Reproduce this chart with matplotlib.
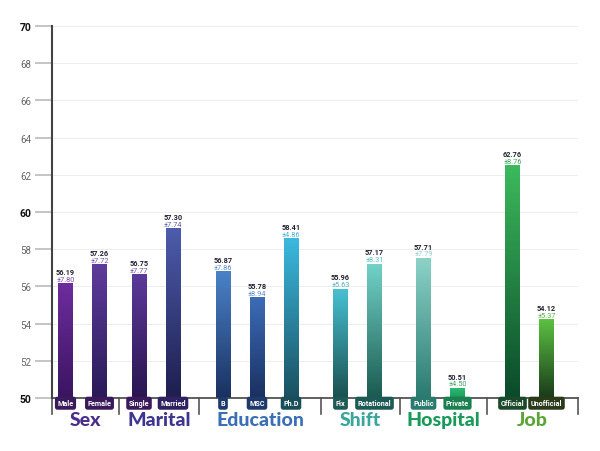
import numpy as np
import matplotlib
matplotlib.use("Agg")
import matplotlib.pyplot as plt
from matplotlib.colors import LinearSegmentedColormap

plt.rcParams['font.family'] = ['Roboto', 'DejaVu Sans']

# data
groups = ['Sex', 'Marital', 'Education', 'Shift', 'Hospital', 'Job']
group_sizes = [2, 2, 3, 2, 2, 2]
categories = ['Male', 'Female', 'Single', 'Married', 'B', 'MSC', 'Ph.D',
              'Fix', 'Rotational', 'Public', 'Private', 'Official', 'Unofficial']
means = [56.19, 57.26, 56.75, 57.30, 56.87, 55.78, 58.41,
         55.96, 57.17, 57.71, 50.51, 62.76, 54.12]
sds = [7.80, 7.72, 7.77, 7.74, 7.86, 8.94, 4.86,
       5.63, 8.31, 7.79, 4.50, 8.76, 5.37]
# drawn bar tops (the picture's bars don't always agree with the labels)
heights = [56.13, 57.16, 56.63, 59.09, 56.79, 55.39, 58.55,
           55.86, 57.20, 57.50, 50.52, 62.49, 54.21]

# styles
top_cols = ['#6e2c9e', '#5e3c9c', '#5c3a9a', '#4d5cac', '#4a82c8', '#3c6cb8', '#3cb9e0',
            '#48c0d2', '#72d2c8', '#8cd2c8', '#2cba72', '#3cba5c', '#5cc242']
bot_cols = ['#3a1560', '#2a1a58', '#2a1550', '#1e1e4e', '#1a3060', '#1a3060', '#1a5060',
            '#1a5050', '#1a5a50', '#2a7a70', '#1a9a5a', '#0a4a2a', '#1a3a1a']
box_cols = ['#3b1a5c', '#3b1a5c', '#3b1a5c', '#2e2260', '#1d3a6b', '#1d3a6b', '#1a4f5a',
            '#1e5a55', '#1e5a55', '#2a7a70', '#1a8050', '#1a4a2a', '#2a3a1a']
sd_cols = ['#7a4ab0', '#7a4ab0', '#7a4ab0', '#5a5ab0', '#5a8ac8', '#5a8ac8', '#4ab0d0',
           '#4ab0c0', '#5ac0b8', '#8ad0c8', '#3aa86a', '#3aa85a', '#5ab040']
group_cols = ['#4a2d8a', '#3f3590', '#3a6fb5', '#3aa59a', '#1a9a5a', '#5aa535']
edges = [52, 119, 199, 321, 400, 487, 578]

fig = plt.figure(figsize=(6, 4.52), dpi=100)
ax = fig.add_axes([52/600, 53/452, 526/600, 372/452])

ymin, ymax = 50, 70
pitch = 34
bw = 15
xs = []
for g, n in enumerate(group_sizes):
    c = (edges[g] + edges[g + 1]) / 2 - 3
    for i in range(n):
        xs.append(c + (i - (n - 1) / 2) * pitch)

for y in range(52, 71, 2):
    ax.axhline(y, color='#ededed', lw=0.7, zorder=0)

grad = np.linspace(0, 1, 256).reshape(-1, 1)
for i, x in enumerate(xs):
    cmap = LinearSegmentedColormap.from_list('b%d' % i, [bot_cols[i], top_cols[i]])
    ax.imshow(grad, cmap=cmap, origin='lower', aspect='auto',
              extent=[x - bw/2, x + bw/2, ymin, heights[i]], zorder=2)
    ax.text(x, heights[i] + 0.42, '%.2f' % means[i], ha='center', va='bottom',
            fontsize=5.3, fontweight='bold', color='#222233', zorder=4)
    ax.text(x, heights[i] + 0.06, '\u00b1%.2f' % sds[i], ha='center', va='bottom',
            fontsize=5.3, color=sd_cols[i], zorder=4)
    ax.text(x, 49.72, categories[i], ha='center', va='center', fontsize=5.2,
            color='white', fontweight='bold', zorder=5, clip_on=False,
            bbox=dict(boxstyle='round,pad=0.35,rounding_size=0.35', fc=box_cols[i], ec='none'))

# group separators and labels
for e in edges:
    ax.plot([e, e], [ymin, 49.14], color='#555555', lw=1.2, clip_on=False, zorder=3)
for g, name in enumerate(groups):
    c = (edges[g] + edges[g + 1]) / 2
    ax.text(c, 48.84, name, ha='center', va='center', fontsize=14,
            family=['Lato', 'DejaVu Sans'], fontweight='black',
            color=group_cols[g], clip_on=False)

ax.set_xlim(edges[0], edges[-1])
ax.set_ylim(ymin, ymax)
ax.set_xticks([])
ax.set_yticks(range(50, 71, 2))
labels = ax.set_yticklabels([str(v) for v in range(50, 71, 2)])
for v, lab in zip(range(50, 71, 2), labels):
    if v % 10 == 0:
        lab.set_fontweight('bold')
        lab.set_color('#111111')
        lab.set_fontsize(7.5)
    else:
        lab.set_color('#666666')
        lab.set_fontsize(7)
ax.tick_params(axis='y', length=12, width=1.2, color='#bbbbbb', pad=3)
for v, t in zip(range(50, 71, 2), ax.yaxis.get_major_ticks()):
    if v % 10 == 0:
        t.tick1line.set_color('#333333')

for s in ['top', 'right']:
    ax.spines[s].set_visible(False)
ax.spines['left'].set_color('#444444')
ax.spines['left'].set_linewidth(1.5)
ax.spines['bottom'].set_color('#444444')
ax.spines['bottom'].set_linewidth(1.2)
ax.spines['left'].set_zorder(6)

fig.savefig('out.png', dpi=100, facecolor='white')
